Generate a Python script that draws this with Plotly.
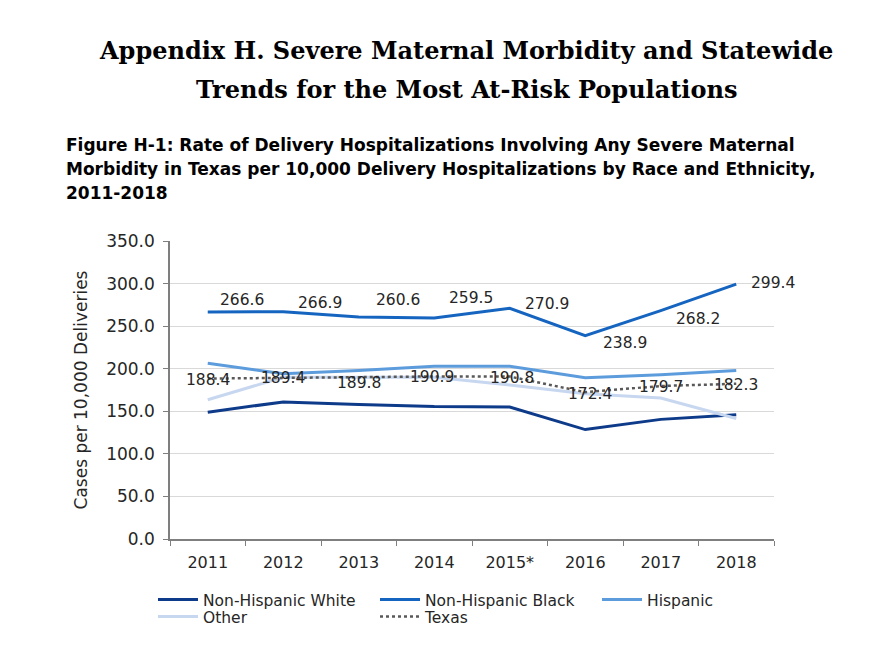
import plotly.graph_objects as go

years = ["2011", "2012", "2013", "2014", "2015*", "2016", "2017", "2018"]
nh_white = [149, 161, 158, 155.5, 155, 128.5, 140.5, 146]
nh_black = [266.6, 266.9, 260.6, 259.5, 270.9, 238.9, 268.2, 299.4]
hispanic = [206.5, 194, 198, 203, 203, 189.5, 193, 198]
other = [163.5, 190, 190, 190, 181, 170.5, 165.5, 141.5]
texas = [188.4, 189.4, 189.8, 190.9, 190.8, 172.4, 179.7, 182.3]
y_ticks = [0, 50, 100, 150, 200, 250, 300, 350]

# label offsets in pixels (style, not data)
black_dx = [34, 37, 39, 37, 37, 40, 37, 37]
black_dy = [12, 9, 17, 20, 4, -7, -8, 1]
texas_dx = [0, 0, 0, -2, 2, 5, 0, 0]
texas_dy = [-1, 0, -6, -1, -1, -2, -1, -1]

FONT = "DejaVu Sans"
TXT = "#262626"
fig = go.Figure()
series = [
    ("Non-Hispanic White", nh_white, "#0E3A8A", "solid", 3, "legend"),
    ("Non-Hispanic Black", nh_black, "#1565C0", "solid", 3, "legend"),
    ("Hispanic", hispanic, "#5D9CDC", "solid", 3, "legend"),
    ("Other", other, "#C8D7F0", "solid", 3, "legend2"),
    ("Texas", texas, "#595959", "dot", 2.5, "legend2"),
]
for name, vals, col, dash, w, lg in series:
    fig.add_trace(go.Scatter(x=years, y=vals, name=name, mode="lines", legend=lg,
                             line=dict(color=col, width=w, dash=dash)))

anns = []
for i in range(len(years)):
    anns.append(dict(x=i, y=nh_black[i], text=f"{nh_black[i]:.1f}", showarrow=False,
                     xshift=black_dx[i], yshift=black_dy[i],
                     font=dict(family=FONT, size=15.5, color=TXT)))
    anns.append(dict(x=i, y=texas[i], text=f"{texas[i]:.1f}", showarrow=False,
                     xshift=texas_dx[i], yshift=texas_dy[i],
                     font=dict(family=FONT, size=15.5, color=TXT)))

# page body has an 8px offset; screen plot area is x 170..774, y 241..539
W, H = 880, 645
OFF = 8
SL, SR, ST, SB = 170, 774, 241, 539
L, T = SL - OFF, ST - OFF
pw, ph = SR - SL, SB - ST
R, B = W - L - pw, H - T - ph

def px(xp):
    return (xp - SL) / pw

def py(yp):
    return (SB - yp) / ph

title_font = dict(family="DejaVu Serif", size=24, color="black")
anns.append(dict(xref="paper", yref="paper", x=px(466), y=py(50), text="<b>Appendix H. Severe Maternal Morbidity and Statewide</b>",
                 showarrow=False, xanchor="center", yanchor="middle", font=title_font))
anns.append(dict(xref="paper", yref="paper", x=px(466), y=py(89), text="<b>Trends for the Most At-Risk Populations</b>",
                 showarrow=False, xanchor="center", yanchor="middle", font=title_font))
sub_lines = [
    "Figure H-1: Rate of Delivery Hospitalizations Involving Any Severe Maternal",
    "Morbidity in Texas per 10,000 Delivery Hospitalizations by Race and Ethnicity,",
    "2011-2018",
]
for k, s in enumerate(sub_lines):
    anns.append(dict(xref="paper", yref="paper", x=px(64), y=py(145 + 24 * k), text=f"<b>{s}</b>",
                     showarrow=False, xanchor="left", yanchor="middle",
                     font=dict(family=FONT, size=17, color="black")))

leg_common = dict(orientation="h", xanchor="left", yanchor="middle",
                  entrywidth=167, font=dict(family=FONT, size=15.5, color=TXT),
                  tracegroupgap=0, itemwidth=40, bgcolor="rgba(0,0,0,0)")

fig.update_layout(
    width=W, height=H,
    margin=dict(l=L, r=R, t=T, b=B, autoexpand=False),
    plot_bgcolor="white", paper_bgcolor="white",
    font=dict(family=FONT, size=15.5, color=TXT),
    annotations=anns,
    showlegend=True,
    legend=dict(x=px(153), y=py(600), **leg_common),
    legend2=dict(x=px(153), y=py(617), **leg_common),
    xaxis=dict(type="category", range=[-0.5, 7.5], showline=True, linecolor="#7f7f7f", linewidth=1.5,
               ticks="outside", tickson="boundaries", ticklen=5, tickcolor="#7f7f7f",
               ticklabelstandoff=8,
               showgrid=False, tickfont=dict(family=FONT, size=16, color=TXT)),
    yaxis=dict(range=[0, 350], tickvals=y_ticks, ticktext=[f"{v:.1f}" for v in y_ticks],
               showline=True, linecolor="#7f7f7f", linewidth=1.5, ticks="outside", ticklen=5,
               tickcolor="#7f7f7f", gridcolor="#D9D9D9", gridwidth=1, zeroline=False,
               ticklabelstandoff=5,
               tickfont=dict(family=FONT, size=17, color=TXT),
               title=dict(text="Cases per 10,000 Deliveries", font=dict(family=FONT, size=17, color=TXT),
                          standoff=14)),
)

fig.write_html("out.html")
